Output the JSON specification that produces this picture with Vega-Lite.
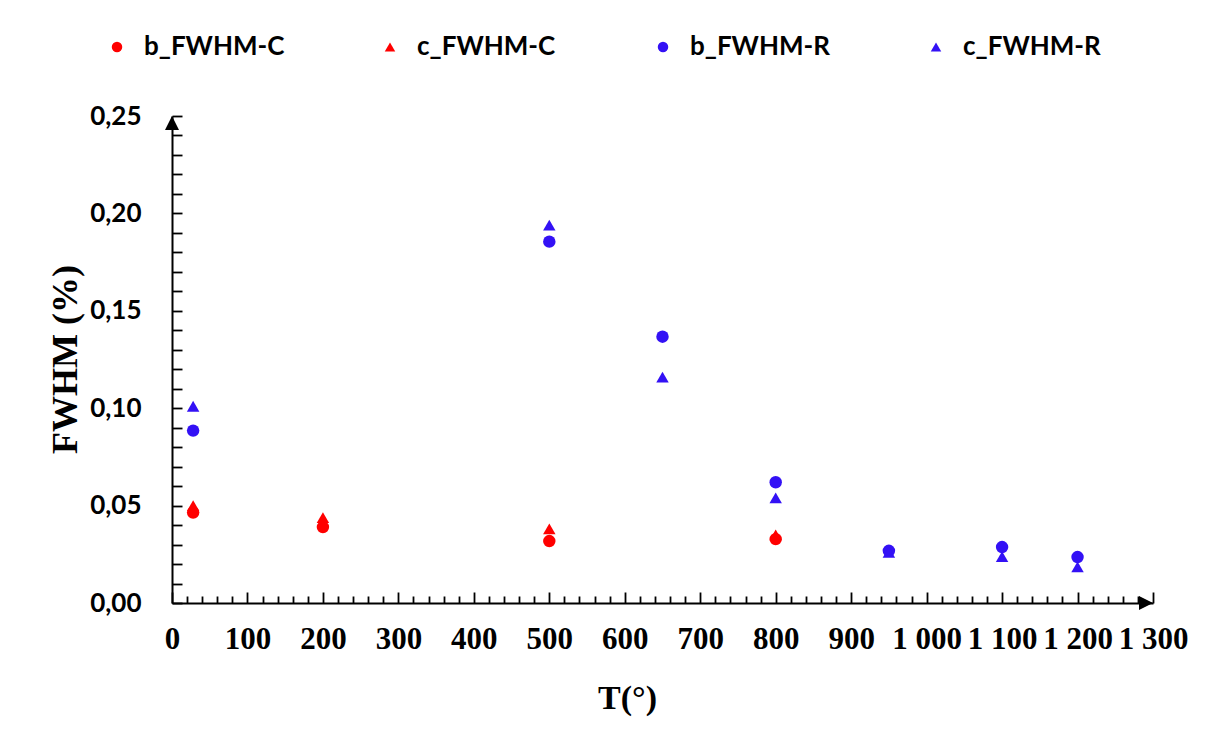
{
  "$schema": "https://vega.github.io/schema/vega-lite/v6.json",
  "width": 981,
  "height": 487,
  "autosize": "none",
  "padding": {"left": 172, "top": 116, "right": 59, "bottom": 128},
  "background": "white",
  "config": {"view": {"stroke": null}},
  "layer": [
    {
      "data": {
        "values": [
          {"series": "b_FWHM-C", "T": 28, "FWHM": 0.0464},
          {"series": "b_FWHM-C", "T": 200, "FWHM": 0.039},
          {"series": "b_FWHM-C", "T": 500, "FWHM": 0.0318},
          {"series": "b_FWHM-C", "T": 800, "FWHM": 0.0328},
          {"series": "c_FWHM-C", "T": 28, "FWHM": 0.050},
          {"series": "c_FWHM-C", "T": 200, "FWHM": 0.0438},
          {"series": "c_FWHM-C", "T": 500, "FWHM": 0.038},
          {"series": "c_FWHM-C", "T": 800, "FWHM": 0.035},
          {"series": "b_FWHM-R", "T": 28, "FWHM": 0.0885},
          {"series": "b_FWHM-R", "T": 500, "FWHM": 0.1855},
          {"series": "b_FWHM-R", "T": 650, "FWHM": 0.1367},
          {"series": "b_FWHM-R", "T": 800, "FWHM": 0.062},
          {"series": "b_FWHM-R", "T": 950, "FWHM": 0.0268},
          {"series": "b_FWHM-R", "T": 1100, "FWHM": 0.0287},
          {"series": "b_FWHM-R", "T": 1200, "FWHM": 0.0236},
          {"series": "c_FWHM-R", "T": 28, "FWHM": 0.101},
          {"series": "c_FWHM-R", "T": 500, "FWHM": 0.194},
          {"series": "c_FWHM-R", "T": 650, "FWHM": 0.116},
          {"series": "c_FWHM-R", "T": 800, "FWHM": 0.054},
          {"series": "c_FWHM-R", "T": 950, "FWHM": 0.026},
          {"series": "c_FWHM-R", "T": 1100, "FWHM": 0.0238},
          {"series": "c_FWHM-R", "T": 1200, "FWHM": 0.0186}
        ]
      },
      "mark": {"type": "point", "filled": true, "opacity": 1, "size": 155},
      "encoding": {
        "x": {
          "field": "T", "type": "quantitative",
          "scale": {"domain": [0, 1300], "nice": false, "zero": false},
          "axis": {
            "values": [0,20,40,60,80,100,120,140,160,180,200,220,240,260,280,300,320,340,360,380,400,420,440,460,480,500,520,540,560,580,600,620,640,660,680,700,720,740,760,780,800,820,840,860,880,900,920,940,960,980,1000,1020,1040,1060,1080,1100,1120,1140,1160,1180,1200,1220,1240,1260,1280,1300],
            "tickCount": 200,
            "labelExpr": "datum.value % 100 === 0 ? (datum.value >= 1000 ? replace(format(datum.value, ','), ',', ' ') : format(datum.value, 'd')) : ''",
            "tickSize": {"condition": {"test": "datum.value % 100 === 0", "value": -11}, "value": -7},
            "tickColor": "black", "tickWidth": 1.8,
            "domainColor": "black", "domainWidth": 2,
            "grid": false,
            "labelFont": "Liberation Serif", "labelFontWeight": "bold", "labelFontSize": 31, "labelColor": "black",
            "labelBaseline": "middle", "labelPadding": 47, "labelFlush": false, "labelOverlap": false,
            "title": "T(°)", "titleFont": "Liberation Serif", "titleFontSize": 34, "titleFontWeight": "bold", "titleColor": "black",
            "titleX": 455, "titleY": 95, "titleBaseline": "middle", "titleAlign": "center"
          }
        },
        "y": {
          "field": "FWHM", "type": "quantitative",
          "scale": {"domain": [0, 0.25], "nice": false},
          "axis": {
            "values": [0,0.01,0.02,0.03,0.04,0.05,0.06,0.07,0.08,0.09,0.1,0.11,0.12,0.13,0.14,0.15,0.16,0.17,0.18,0.19,0.2,0.21,0.22,0.23,0.24,0.25],
            "tickCount": 200,
            "labelExpr": "round(datum.value * 100) % 5 === 0 ? replace(format(datum.value, '.2f'), '.', ',') : ''",
            "tickSize": -10,
            "tickColor": "black", "tickWidth": 1.8,
            "domainColor": "black", "domainWidth": 2,
            "grid": false,
            "labelFont": "Lato", "labelFontWeight": "bold", "labelFontSize": 26, "labelColor": "black",
            "labelPadding": 41, "labelFlush": false, "labelOverlap": false,
            "title": "FWHM (%)", "titleFont": "Liberation Serif", "titleFontSize": 36, "titleFontWeight": "bold", "titleColor": "black",
            "titleX": -107, "titleY": 243, "titleBaseline": "middle", "titleAlign": "center", "titleAngle": -90
          }
        },
        "color": {
          "field": "series", "type": "nominal",
          "scale": {"domain": ["b_FWHM-C", "c_FWHM-C", "b_FWHM-R", "c_FWHM-R"], "range": ["#FF0000", "#FF0000", "#3311F5", "#3311F5"]},
          "legend": {
            "title": null, "orient": "none", "direction": "horizontal", "columns": 4,
            "legendX": -68, "legendY": -82, "gridAlign": "all", "columnPadding": 92,
            "labelFont": "Lato", "labelFontWeight": "bold", "labelFontSize": 26, "labelColor": "black",
            "labelOffset": 14, "symbolSize": 110, "symbolStrokeWidth": 0, "padding": 0
          }
        },
        "shape": {
          "field": "series", "type": "nominal",
          "scale": {"domain": ["b_FWHM-C", "c_FWHM-C", "b_FWHM-R", "c_FWHM-R"], "range": ["circle", "triangle-up", "circle", "triangle-up"]}
        }
      }
    },
    {
      "data": {"values": [{}]},
      "mark": {"type": "point", "filled": true, "opacity": 1, "shape": "M0,0L1,2L-1,2Z", "size": 196, "color": "black"},
      "encoding": {"x": {"datum": 0, "type": "quantitative"}, "y": {"datum": 0.25, "type": "quantitative"}}
    },
    {
      "data": {"values": [{}]},
      "mark": {"type": "point", "filled": true, "opacity": 1, "shape": "M0,0L-2,-1L-2,1Z", "size": 196, "color": "black"},
      "encoding": {"x": {"datum": 1300, "type": "quantitative"}, "y": {"datum": 0, "type": "quantitative"}}
    }
  ]
}
